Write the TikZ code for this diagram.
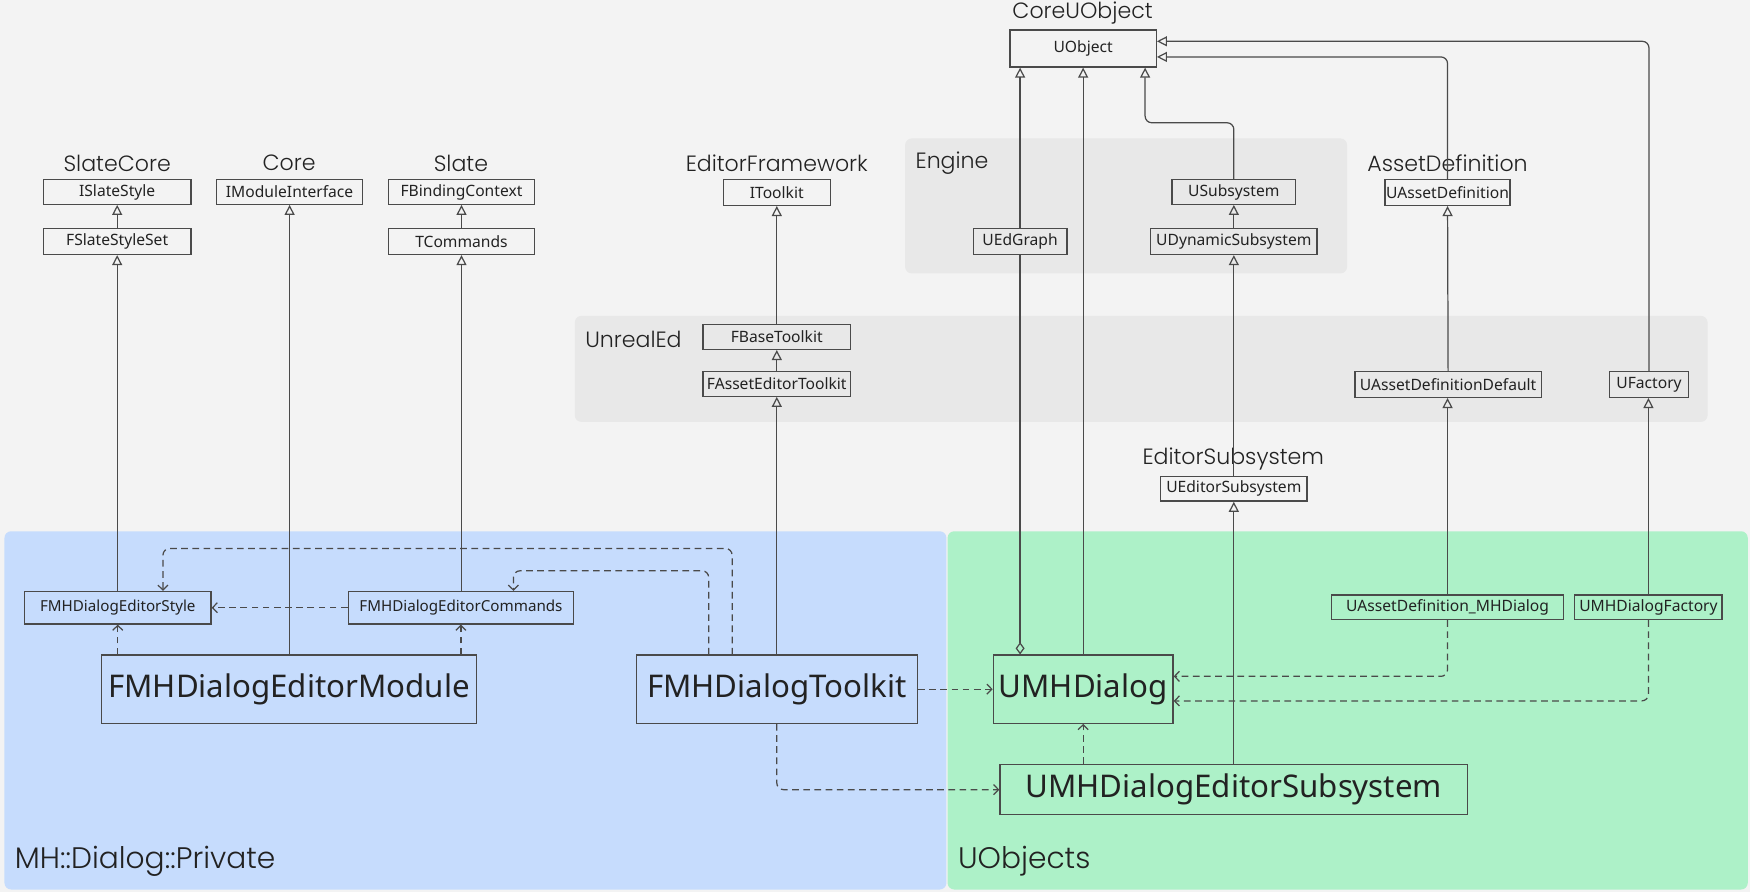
\documentclass[tikz,border=0pt]{standalone}
\usepackage{fontspec}
\setmainfont{Noto Sans}
\newfontfamily\labfont{Poppins Light}
\usetikzlibrary{arrows.meta,calc}
\definecolor{bgc}{HTML}{F3F3F3}
\definecolor{grpc}{HTML}{E8E8E8}
\definecolor{bluec}{HTML}{C6DCFD}
\definecolor{greenc}{HTML}{ADF1C8}
\definecolor{linec}{HTML}{4A4A4A}
\definecolor{textc}{HTML}{222222}
\tikzset{
  box/.style={draw=linec, line width=0.6pt, inner sep=0pt, text=textc, font=\fontsize{7}{8}\selectfont},
  bigbox/.style={box, font=\fontsize{14}{16}\selectfont},
  midbox/.style={box, font=\fontsize{6.8}{8}\selectfont},
  modlabel/.style={inner sep=0pt, text=textc, font=\labfont\fontsize{9.9}{11}\selectfont},
  grplabel/.style={inner sep=0pt, text=textc, anchor=west, font=\labfont\fontsize{9.9}{11}\selectfont},
  biglabel/.style={inner sep=0pt, text=textc, anchor=west, font=\labfont\fontsize{13.3}{15}\selectfont},
  inh/.style={draw=linec, line width=0.55pt, rounded corners=3pt, -{Triangle[open, length=4.5pt, width=4.5pt]}},
  dep/.style={draw=linec, line width=0.55pt, rounded corners=3pt, dash pattern=on 3pt off 2pt, -{Straight Barb[length=2.2pt, width=4.5pt]}},
  agg/.style={draw=linec, line width=0.55pt, -{Diamond[open, length=5.5pt, width=4pt]}},
}
\begin{document}
\begin{tikzpicture}[x=0.5pt, y=-0.5pt]
% background
\fill[bgc] (0,0) rectangle (1568,799);
\useasboundingbox (0,0) rectangle (1568,799);
% groups
\fill[grpc, rounded corners=3pt] (811,124) rectangle (1207,245);
\fill[grpc, rounded corners=3pt] (515,283) rectangle (1530,378);
\fill[bluec, rounded corners=3pt] (4,476) rectangle (848,797);
\fill[greenc, rounded corners=3pt] (849,476) rectangle (1566,797);
% group labels
\node[modlabel] (lCoreUObject) at (970,12) {CoreUObject};
\node[modlabel] (lSlateCore) at (105,146) {SlateCore};
\node[modlabel] (lCore) at (259,146) {Core};
\node[modlabel] (lSlate) at (413,146) {Slate};
\node[modlabel] (lEditorFramework) at (696,146) {EditorFramework};
\node[grplabel] (lEngine) at (820,146) {Engine};
\node[modlabel] (lAssetDefinition) at (1297,146) {AssetDefinition};
\node[grplabel] (lUnrealEd) at (524,304) {UnrealEd};
\node[modlabel] (lEditorSubsystem) at (1105,411) {EditorSubsystem};
\node[biglabel] (lPrivate) at (13,772) {MH::Dialog::Private};
\node[biglabel] (lUObjects) at (858,772) {UObjects};
% boxes
\node[box, minimum width=65.5pt, minimum height=16.5pt] (UObject) at (970.5,43.5) {UObject};
\node[box, minimum width=66pt, minimum height=11pt] (ISlateStyle) at (105,172) {ISlateStyle};
\node[box, minimum width=66pt, minimum height=11.5pt] (FSlateStyleSet) at (105,216.5) {FSlateStyleSet};
\node[box, minimum width=65.5pt, minimum height=11pt] (IModuleInterface) at (259.5,172) {IModuleInterface};
\node[box, minimum width=65.5pt, minimum height=11pt] (FBindingContext) at (413.5,172) {FBindingContext};
\node[box, minimum width=65.5pt, minimum height=11.5pt] (TCommands) at (413.5,216.5) {TCommands};
\node[box, minimum width=48pt, minimum height=11.5pt] (IToolkit) at (696,172.5) {IToolkit};
\node[box, minimum width=42pt, minimum height=11.5pt] (UEdGraph) at (914,216.5) {UEdGraph};
\node[box, minimum width=55.5pt, minimum height=11pt] (USubsystem) at (1105.5,172) {USubsystem};
\node[box, minimum width=74.5pt, minimum height=11.5pt] (UDynamicSubsystem) at (1105.5,216.5) {UDynamicSubsystem};
\node[box, minimum width=56pt, minimum height=11.5pt] (UAssetDefinition) at (1297,172.5) {UAssetDefinition};
\node[box, minimum width=66pt, minimum height=11pt] (FBaseToolkit) at (696,302) {FBaseToolkit};
\node[box, minimum width=66pt, minimum height=11pt] (FAssetEditorToolkit) at (696,344) {FAssetEditorToolkit};
\node[box, minimum width=83.5pt, minimum height=11.5pt] (UAssetDefinitionDefault) at (1297.5,344.5) {UAssetDefinitionDefault};
\node[box, minimum width=35.5pt, minimum height=11.5pt] (UFactory) at (1477.5,344.5) {UFactory};
\node[box, minimum width=65.5pt, minimum height=11pt] (UEditorSubsystem) at (1105.5,438) {UEditorSubsystem};
\node[midbox, minimum width=83.5pt, minimum height=14.5pt] (Style) at (105.5,544.5) {FMHDialogEditorStyle};
\node[midbox, minimum width=101pt, minimum height=14.5pt] (Commands) at (413,544.5) {FMHDialogEditorCommands};
\node[bigbox, minimum width=168pt, minimum height=30.5pt] (Module) at (259,617.5) {FMHDialogEditorModule};
\node[bigbox, minimum width=126pt, minimum height=30.5pt] (Toolkit) at (696,617.5) {FMHDialogToolkit};
\node[bigbox, minimum width=80.5pt, minimum height=30.5pt] (UMHDialog) at (970.5,617.5) {UMHDialog};
\node[bigbox, minimum width=209.5pt, minimum height=22.5pt] (EdSub) at (1105.5,707.5) {UMHDialogEditorSubsystem};
\node[box, minimum width=104pt, minimum height=11pt] (ADMH) at (1297,544) {UAssetDefinition\_MHDialog};
\node[box, minimum width=66pt, minimum height=11pt] (Factory) at (1477,544) {UMHDialogFactory};
% inheritance
\draw[inh] (FSlateStyleSet.north) -- (ISlateStyle.south);
\draw[inh] (Style.north -| FSlateStyleSet.south) -- (FSlateStyleSet.south);
\draw[inh] (Module.north -| IModuleInterface.south) -- (IModuleInterface.south);
\draw[inh] (TCommands.north) -- (FBindingContext.south);
\draw[inh] (Commands.north -| TCommands.south) -- (TCommands.south);
\draw[inh] (FBaseToolkit.north) -- (IToolkit.south);
\draw[inh] (FAssetEditorToolkit.north) -- (FBaseToolkit.south);
\draw[inh] (Toolkit.north) -- (FAssetEditorToolkit.south);
\draw[inh] (UEdGraph.north) -- (UEdGraph.north |- UObject.south);
\draw[inh] (UMHDialog.north) -- (UObject.south);
\coordinate (kSub) at (1026,110);
\draw[inh] (USubsystem.north) |- (kSub) -- (kSub |- UObject.south);
\draw[inh] (UDynamicSubsystem.north) -- (USubsystem.south);
\draw[inh] (UEditorSubsystem.north) -- (UDynamicSubsystem.south);
\draw[inh] (EdSub.north) -- (UEditorSubsystem.south);
\draw[inh] (UAssetDefinition.north) |- ($(UObject.east)+(0,7.5)$);
\draw[inh] (UAssetDefinitionDefault.north) -- (UAssetDefinition.south);
\draw[inh] (ADMH.north) -- (ADMH.north |- UAssetDefinitionDefault.south);
\draw[inh] (UFactory.north) |- ($(UObject.east)+(0,-6.5)$);
\draw[inh] (Factory.north) -- (Factory.north |- UFactory.south);
% aggregation
\draw[agg] (UEdGraph.south) -- (UEdGraph.south |- UMHDialog.north);
% dependencies
\draw[dep] (Commands.west) -- (Style.east);
\draw[dep] (Module.north -| Style.south) -- (Style.south);
\draw[dep] (Module.north -| Commands.south) -- (Commands.south);
\draw[dep] ($(Toolkit.north)+(-40,0)$) -- ++(0,-95) -| ($(Style.north)+(40.5,0)$);
\draw[dep] ($(Toolkit.north)+(-61,0)$) -- ++(0,-75) -| ($(Commands.north)+(47,0)$);
\draw[dep] (Toolkit.east) -- (UMHDialog.west);
\draw[dep] (Toolkit.south) |- (EdSub.west);
\draw[dep] (UMHDialog.south |- EdSub.north) -- (UMHDialog.south);
\draw[dep] (ADMH.south) |- ($(UMHDialog.east)+(0,-11.5)$);
\draw[dep] (Factory.south) |- ($(UMHDialog.east)+(0,10.5)$);
\end{tikzpicture}
\end{document}
